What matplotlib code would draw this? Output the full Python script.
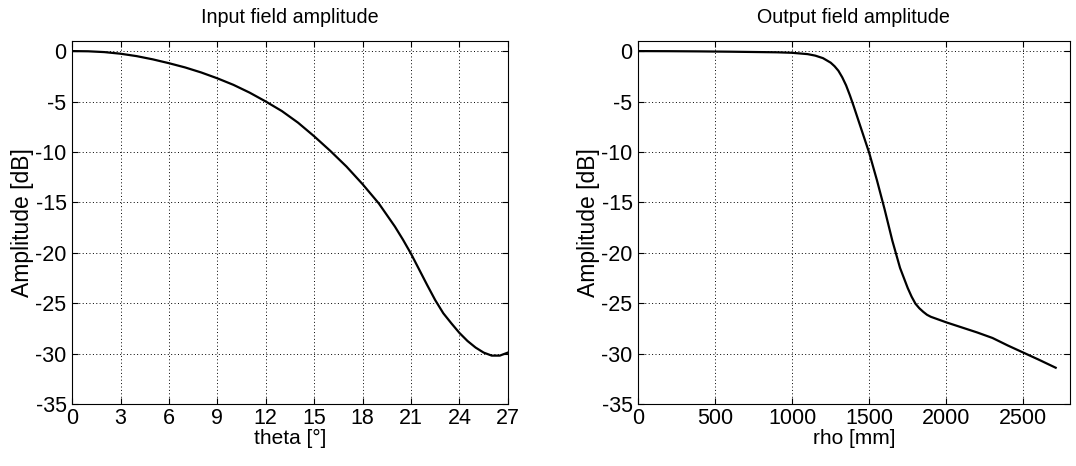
import matplotlib
matplotlib.use("Agg")
import matplotlib.pyplot as plt

# input field: amplitude vs theta
theta = [0, 1, 2, 3, 4, 5, 6, 7, 8, 9, 10, 11, 12, 13, 14, 15, 16, 17, 18,
         19, 20, 20.5, 21, 21.5, 22, 22.5, 23, 23.5, 24, 24.5, 25, 25.5, 26,
         26.5, 27]
amp_in = [0, -0.02, -0.1, -0.26, -0.5, -0.82, -1.2, -1.62, -2.12, -2.7,
          -3.35, -4.12, -5.0, -5.95, -7.1, -8.45, -9.9, -11.45, -13.2, -15.1,
          -17.4, -18.7, -20.1, -21.65, -23.2, -24.7, -26.0, -27.0, -27.95,
          -28.75, -29.4, -29.9, -30.2, -30.2, -29.9]

# output field: amplitude vs rho
rho = [0, 200, 400, 600, 800, 900, 1000, 1100, 1150, 1200, 1250, 1275, 1300,
       1325, 1350, 1375, 1400, 1450, 1500, 1550, 1600, 1650, 1700, 1750,
       1775, 1800, 1825, 1850, 1875, 1900, 2000, 2100, 2200, 2300, 2400,
       2500, 2600, 2710]
amp_out = [0, -0.01, -0.03, -0.06, -0.1, -0.12, -0.17, -0.3, -0.45, -0.7,
           -1.15, -1.5, -1.95, -2.6, -3.4, -4.4, -5.5, -7.8, -10.1, -12.8,
           -15.7, -18.8, -21.5, -23.5, -24.35, -25.05, -25.5, -25.85, -26.15,
           -26.35, -26.9, -27.4, -27.9, -28.45, -29.2, -29.9, -30.6, -31.4]

ticks_theta = list(range(0, 28, 3))
ticks_rho = list(range(0, 2501, 500))
ticks_amp = list(range(-35, 1, 5))

plt.rcParams['font.family'] = ['Liberation Sans', 'DejaVu Sans']
plt.rcParams['font.size'] = 15.5
plt.rcParams['axes.unicode_minus'] = False

fig = plt.figure(figsize=(10.76, 4.66), dpi=100)
ax1 = fig.add_axes([0.067, 0.133, 0.405, 0.779])
ax2 = fig.add_axes([0.593, 0.133, 0.401, 0.779])


def style(ax, xt, xlim):
    ax.set_xlim(*xlim)
    ax.set_ylim(-35, 1)
    ax.set_xticks(xt)
    ax.set_yticks(ticks_amp)
    ax.tick_params(direction='in', length=4, width=0.8, top=True, right=True,
                   colors='black')
    ax.tick_params(axis='x', pad=3)
    ax.tick_params(axis='y', pad=4)
    ax.grid(True, color='black', linestyle=(0, (1, 2.5)), linewidth=0.7)
    for s in ax.spines.values():
        s.set_color('black')
        s.set_linewidth(0.8)
    ax.set_ylabel('Amplitude [dB]', fontsize=16.5, labelpad=1)


ax1.plot(theta, amp_in, color='black', linewidth=1.6)
style(ax1, ticks_theta, (0, 27))
ax1.set_xlabel('theta [°]', fontsize=15, labelpad=0)
ax1.set_title('Input field amplitude', fontsize=14.2, pad=13)

ax2.plot(rho, amp_out, color='black', linewidth=1.6)
style(ax2, ticks_rho, (0, 2800))
ax2.set_xlabel('rho [mm]', fontsize=15, labelpad=0)
ax2.set_title('Output field amplitude', fontsize=14.2, pad=13)

fig.savefig('out.png', dpi=100)
